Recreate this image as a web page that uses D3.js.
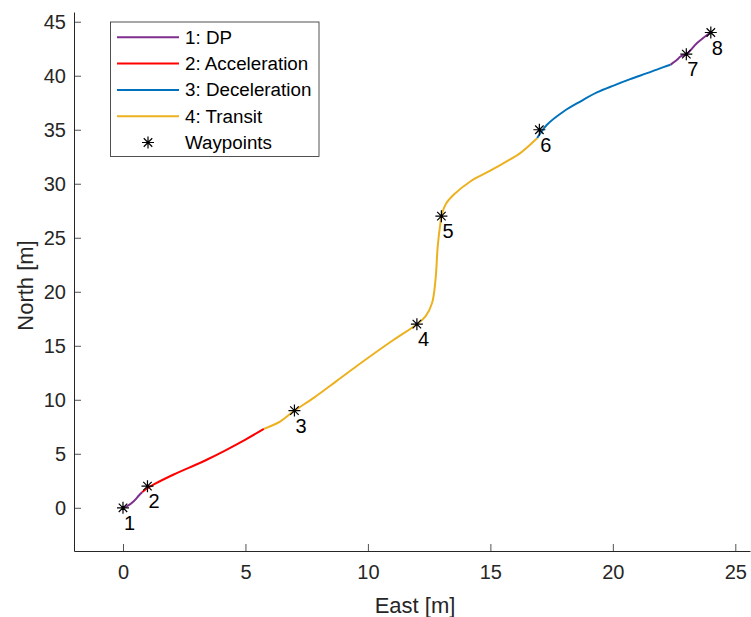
<!DOCTYPE html>
<html>
<head>
<meta charset="utf-8">
<script src="https://cdn.jsdelivr.net/npm/d3@7"></script>
<style>
  html, body { margin: 0; padding: 0; background: #ffffff; }
  svg { display: block; font-family: "Liberation Sans", Arial, Helvetica, sans-serif; }
</style>
</head>
<body>
<svg id="chart" width="751" height="617"></svg>
<script>
// ---- Data (East [m], North [m]) ----
const dpStart = [[0,0],[0.17,0.15],[0.44,0.61],[0.65,1.14],[0.78,1.44]];
const acceleration = [[0.78,1.44],[0.92,1.69],[1.26,2.16],[2.07,3.08],[3.44,4.47],[5.0,6.32],[5.75,7.31]];
const transit = [[5.75,7.31],[6.43,8.01],[6.97,8.94],[7.8,10.2],[8.7,11.7],[9.56,13.15],[10.92,15.35],[12.0,17.0],
                 [12.35,17.72],[12.62,18.96],[12.76,21.12],[12.85,24.2],[12.96,26.36],[13.03,27.29],[13.2,28.2],
                 [13.5,28.98],[14.18,30.21],[14.86,31.05],[15.54,31.91],[16.22,32.84],[16.84,34.07],[16.91,34.23]];
const deceleration = [[16.91,34.23],[17.31,35.46],[17.99,36.69],[18.67,37.61],[19.35,38.45],[20.03,39.09],
                      [20.71,39.68],[21.4,40.24],[22.07,40.8],[22.35,41.01]];
const dpEnd = [[22.35,41.01],[22.62,41.47],[22.76,41.78],[23.0,41.99],[23.44,43.02],[23.98,44.0]];
const waypointsEast  = [0, 1, 7, 12, 13, 17, 23, 24];
const waypointsNorth = [0, 2, 9, 17, 27, 35, 42, 44];
const waypointLabels = ["1","2","3","4","5","6","7","8"];
const xTicks = [0, 5, 10, 15, 20, 25];
const yTicks = [0, 5, 10, 15, 20, 25, 30, 35, 40, 45];
const legendLabels = ["1: DP", "2: Acceleration", "3: Deceleration", "4: Transit", "Waypoints"];
const colors = { dp: "#7E2F8E", acc: "#FF0000", dec: "#0072BD", tra: "#EDB120" };

(function draw() {
  const svg = d3.select("#chart");
  const mLeft = 74, mRight = 750, mTop = 12, mBottom = 551;
  const x = d3.scaleLinear().domain([-2, 25.6]).range([mLeft, mRight]);
  const y = d3.scaleLinear().domain([-4, 45.9]).range([mBottom, mTop]);
  const axisColor = "#262626";

  const xAxis = d3.axisBottom(x).tickValues(xTicks).tickSizeInner(-7).tickSizeOuter(0).tickPadding(14);
  const yAxis = d3.axisLeft(y).tickValues(yTicks).tickSizeInner(-7).tickSizeOuter(0).tickPadding(8);

  const gx = svg.append("g").attr("transform", `translate(0,${mBottom})`).call(xAxis);
  const gy = svg.append("g").attr("transform", `translate(${mLeft},0)`).call(yAxis);
  [gx, gy].forEach(g => {
    g.select(".domain").attr("stroke", axisColor).attr("stroke-width", 1);
    g.selectAll(".tick line").attr("stroke", axisColor).attr("stroke-width", 0.8);
    g.selectAll(".tick text").attr("fill", axisColor).attr("font-size", 20)
      .attr("font-family", "Liberation Sans, Arial, sans-serif");
  });

  svg.append("text").attr("x", (mLeft + mRight) / 2 + 3).attr("y", 613)
    .attr("text-anchor", "middle").attr("font-size", 22).attr("fill", axisColor).text("East [m]");
  svg.append("text").attr("transform", `translate(33,${(mTop + mBottom) / 2 + 4}) rotate(-90)`)
    .attr("text-anchor", "middle").attr("font-size", 22).attr("fill", axisColor).text("North [m]");

  const line = d3.line().x(d => x(d[0])).y(d => y(d[1])).curve(d3.curveCatmullRom.alpha(0.5));
  const segs = [
    [transit, colors.tra], [acceleration, colors.acc], [deceleration, colors.dec],
    [dpStart, colors.dp], [dpEnd, colors.dp]
  ];
  segs.forEach(([data, c]) => {
    svg.append("path").datum(data).attr("d", line)
      .attr("fill", "none").attr("stroke", c).attr("stroke-width", 2).attr("stroke-linejoin", "round");
  });

  function asterisk(g, cx, cy, r) {
    const d = r * Math.SQRT1_2;
    const p = `M${cx - r},${cy}L${cx + r},${cy}M${cx},${cy - r}L${cx},${cy + r}` +
              `M${cx - d},${cy - d}L${cx + d},${cy + d}M${cx - d},${cy + d}L${cx + d},${cy - d}`;
    g.append("path").attr("d", p).attr("stroke", "#000").attr("stroke-width", 1.2).attr("fill", "none");
  }
  const wpG = svg.append("g");
  waypointsEast.forEach((e, i) => {
    const px = x(e), py = y(waypointsNorth[i]);
    asterisk(wpG, px, py, 6);
    wpG.append("text").attr("x", px + 1).attr("y", py + 22).attr("font-size", 20)
      .attr("fill", "#000").text(waypointLabels[i]);
  });

  const lg = svg.append("g");
  lg.append("rect").attr("x", 110.5).attr("y", 22).attr("width", 208.5).attr("height", 134.5)
    .attr("fill", "#fff").attr("stroke", axisColor).attr("stroke-width", 0.8);
  const legendColors = [colors.dp, colors.acc, colors.dec, colors.tra, null];
  legendLabels.forEach((lab, i) => {
    const cy = 37.3 + i * 26.3;
    if (legendColors[i]) {
      lg.append("line").attr("x1", 117).attr("x2", 179).attr("y1", cy).attr("y2", cy)
        .attr("stroke", legendColors[i]).attr("stroke-width", 2);
    } else {
      asterisk(lg, 148, cy, 6);
    }
    lg.append("text").attr("x", 185).attr("y", cy + 6.5).attr("font-size", 18.8)
      .attr("fill", "#000").text(lab);
  });
})();
</script>
</body>
</html>
